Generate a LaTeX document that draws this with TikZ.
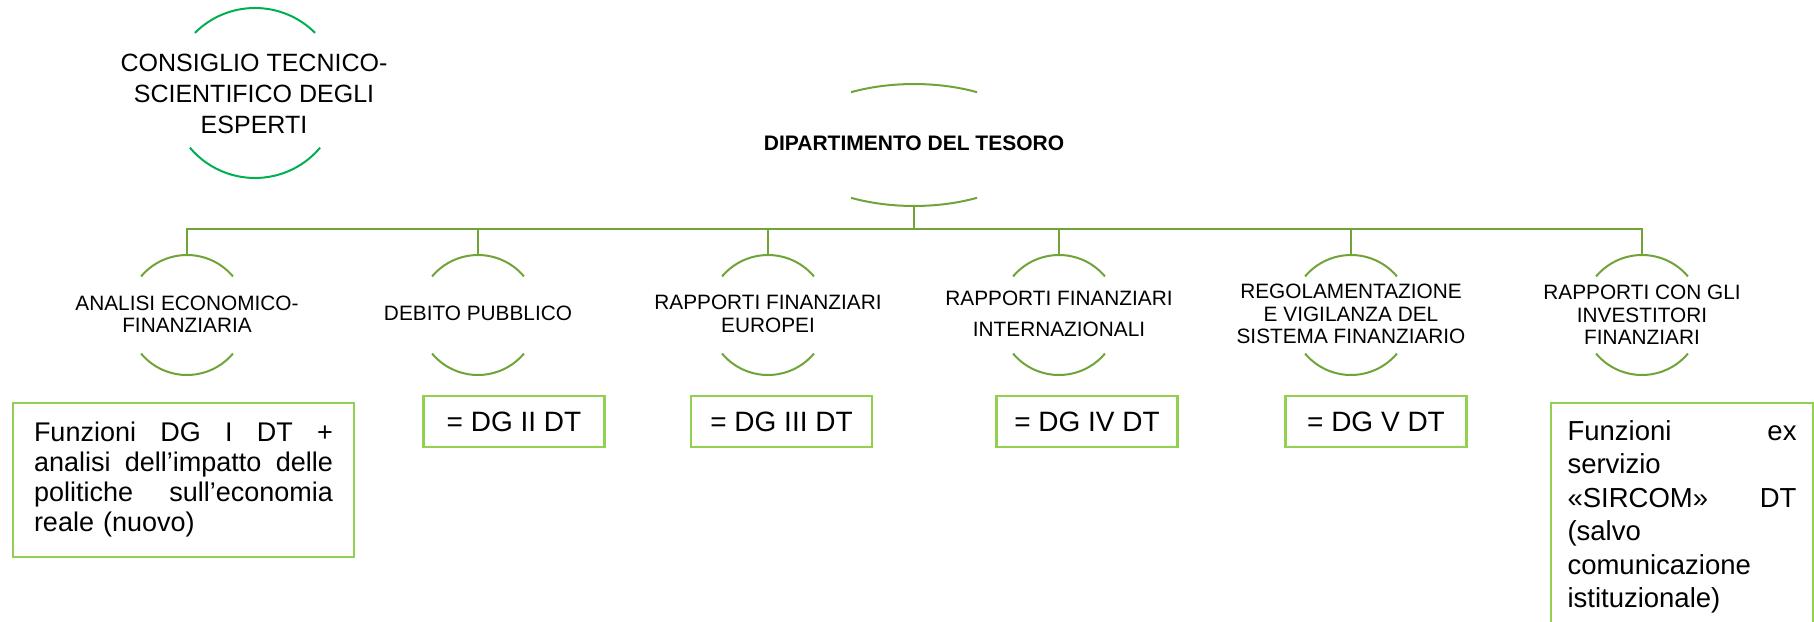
\documentclass[tikz,border=0pt]{standalone}
\usepackage{fontspec}
\setmainfont{Liberation Sans}
\usetikzlibrary{shapes.geometric}
\definecolor{lgreen}{HTML}{70A338}
\definecolor{bgreen}{HTML}{92D050}
\definecolor{cgreen}{HTML}{00B050}
\begin{document}
\begin{tikzpicture}[x=1pt,y=-1pt,
  conn/.style={draw=lgreen,line width=2.5pt},
  arcline/.style={draw=lgreen,line width=2pt},
  carc/.style={draw=cgreen,line width=2pt},
  shp/.style={circle,minimum size=120pt,inner sep=0pt,outer sep=0pt},
  lbl/.style={font=\fontsize{20.8}{22.5}\selectfont,align=center,inner sep=0pt},
  dgbox/.style={draw=bgreen,line width=2.5pt,minimum width=181pt,minimum height=51pt,inner sep=0pt,font=\fontsize{28}{30}\selectfont},
  bigbox/.style={draw=bgreen,line width=2.5pt,inner sep=0pt,align=left},
]
\useasboundingbox (0,0) rectangle (1814,621);

% Consiglio
\node[circle,minimum size=170pt,inner sep=0pt,outer sep=0pt] (cons) at (255,93) {};
\draw[carc] (cons.45) arc[start angle=45,end angle=135,radius=85pt];
\draw[carc] (cons.220) arc[start angle=220,end angle=320,radius=85pt];
\node[font=\fontsize{25}{31}\selectfont,align=center,inner sep=0pt] (constxt) at (254,94) {CONSIGLIO TECNICO-\\SCIENTIFICO DEGLI\\ESPERTI};

% Dipartimento
\node[ellipse,minimum width=252pt,minimum height=122pt,inner sep=0pt,outer sep=0pt] (dep) at (914,145) {};
\draw[arcline] (dep.center) ++(63pt,52.8pt) arc[start angle=60,end angle=120,x radius=126pt,y radius=61pt];
\draw[arcline] (dep.center) ++(-63pt,-52.8pt) arc[start angle=240,end angle=300,x radius=126pt,y radius=61pt];
\node[font=\bfseries\fontsize{21}{22}\selectfont,inner sep=0pt] (deptxt) at (914,143) {DIPARTIMENTO DEL TESORO};

% Subordinate shapes
\node[shp] (s1) at (187,315) {};
\node[shp] (s2) at (478,315) {};
\node[shp] (s3) at (768,315) {};
\node[shp] (s4) at (1059,315) {};
\node[shp] (s5) at (1351,315) {};
\node[shp] (s6) at (1642,315) {};
\foreach \s in {s1,s2,s3,s4,s5,s6}{
  \draw[arcline] (\s.40) arc[start angle=40,end angle=140,radius=60pt];
  \draw[arcline] (\s.220) arc[start angle=220,end angle=320,radius=60pt];
}

\node[lbl] (l1) at (187,314) {ANALISI ECONOMICO-\\FINANZIARIA};
\node[lbl] (l2) at (478,313) {DEBITO PUBBLICO};
\node[lbl] (l3) at (768,314) {RAPPORTI FINANZIARI\\EUROPEI};
\node[lbl,font=\fontsize{20.8}{31}\selectfont] (l4) at (1059,314) {RAPPORTI FINANZIARI\\INTERNAZIONALI};
\node[lbl] (l5) at (1351,314) {REGOLAMENTAZIONE\\E VIGILANZA DEL\\SISTEMA FINANZIARIO};
\node[lbl] (l6) at (1642,315) {RAPPORTI CON GLI\\INVESTITORI\\FINANZIARI};

% connectors
\coordinate (bus) at (914,229);
\draw[conn] (dep.south) -- (bus);
\draw[conn] (s1.north) -- (s1.north |- bus) -- (s6.north |- bus) -- (s6.north);
\foreach \s in {s2,s3,s4,s5}{
  \draw[conn] (\s.north) -- (\s.north |- bus);
}

% boxes
\node[bigbox,minimum width=341pt,minimum height=154pt,text width=299pt,font=\fontsize{27}{30}\selectfont] (b1) at (183.5,480)
  {\makebox[\linewidth]{Funzioni\hfill DG\hfill I\hfill DT\hfill +}\\
   \makebox[\linewidth]{analisi\hfill dell’impatto\hfill delle}\\
   \makebox[\linewidth]{politiche\hfill sull’economia}\\
   reale (nuovo)};
\node[dgbox] (b2) at (514,421.5) {= DG II DT};
\node[dgbox] (b3) at (781.5,421.5) {= DG III DT};
\node[dgbox] (b4) at (1087,421.5) {= DG IV DT};
\node[dgbox] (b5) at (1376,421.5) {= DG V DT};
\node[bigbox,minimum width=262pt,minimum height=228pt,text width=229pt,font=\fontsize{27.5}{33.5}\selectfont] (b6) at (1682,517)
  {\makebox[\linewidth]{Funzioni\hfill ex}\\
   servizio\\
   \makebox[\linewidth]{«SIRCOM»\hfill DT}\\
   (salvo\\
   comunicazione\\
   istituzionale)};
\end{tikzpicture}
\end{document}
